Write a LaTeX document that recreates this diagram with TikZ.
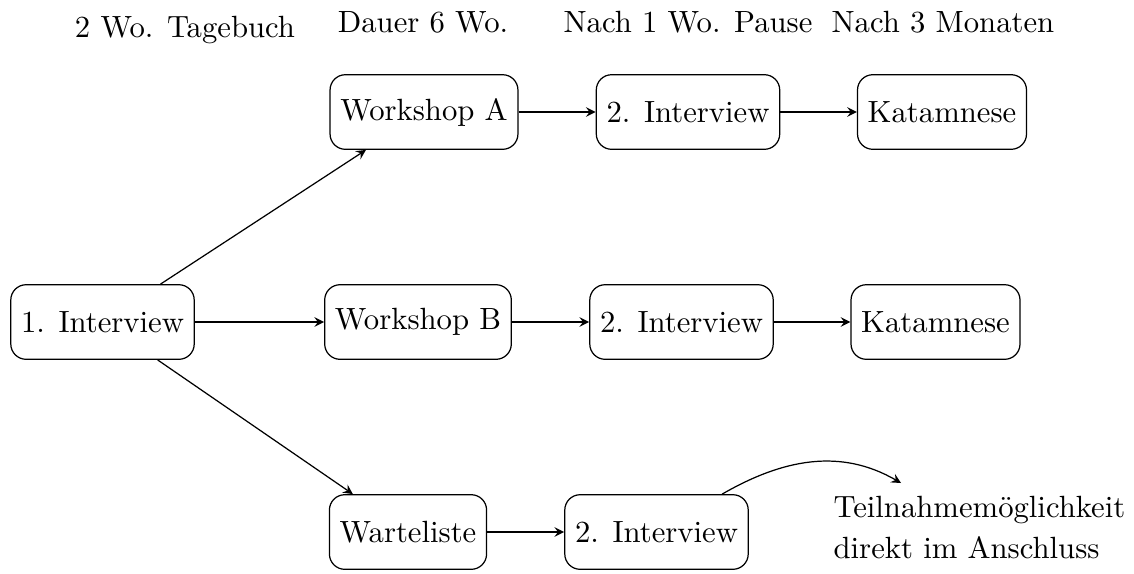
\documentclass[tikz,border=0pt]{standalone}
\usetikzlibrary{arrows}
\begin{document}
\begin{tikzpicture}[x=0.3257pt,y=-0.3257pt,
  box/.style={draw,rounded corners=5pt,minimum height=24.3pt,inner sep=3.33pt},
  lab/.style={anchor=base,inner sep=0pt},
  conn/.style={-stealth,line width=0.4pt}]
\useasboundingbox (0,0) rectangle (1134,573);
% top labels
\node[lab] (l1) at (185,37) {2 Wo. Tagebuch};
\node[lab] (l2) at (423,32) {Dauer 6 Wo.};
\node[lab] (l3) at (688,32) {Nach 1 Wo. Pause};
\node[lab] (l4) at (943,32) {Nach 3 Monaten};
% boxes
\node[box] (n1) at (102.5,322) {1. Interview};
\node[box] (wa) at (424,112) {Workshop A};
\node[box] (i2a) at (688,112) {2. Interview};
\node[box] (ka) at (942,112) {Katamnese};
\node[box] (wb) at (418,322) {Workshop B};
\node[box] (i2b) at (681.5,322) {2. Interview};
\node[box] (kb) at (935.5,322) {Katamnese};
\node[box] (wl) at (408,532) {Warteliste};
\node[box] (i2c) at (656.5,532) {2. Interview};
\node[anchor=north west,inner sep=0pt,align=left] (tn) at (833,496) {Teilnahmemöglichkeit\\[1.2pt]direkt im Anschluss};
\coordinate (tgt) at (901,483);
% connectors
\draw[conn] (n1) -- (wa);
\draw[conn] (n1) -- (wb);
\draw[conn] (n1) -- (wl);
\draw[conn] (wa) -- (i2a);
\draw[conn] (i2a) -- (ka);
\draw[conn] (wb) -- (i2b);
\draw[conn] (i2b) -- (kb);
\draw[conn] (wl) -- (i2c);
\draw[conn] (i2c) to[out=30,in=150] (tgt);
\end{tikzpicture}
\end{document}
